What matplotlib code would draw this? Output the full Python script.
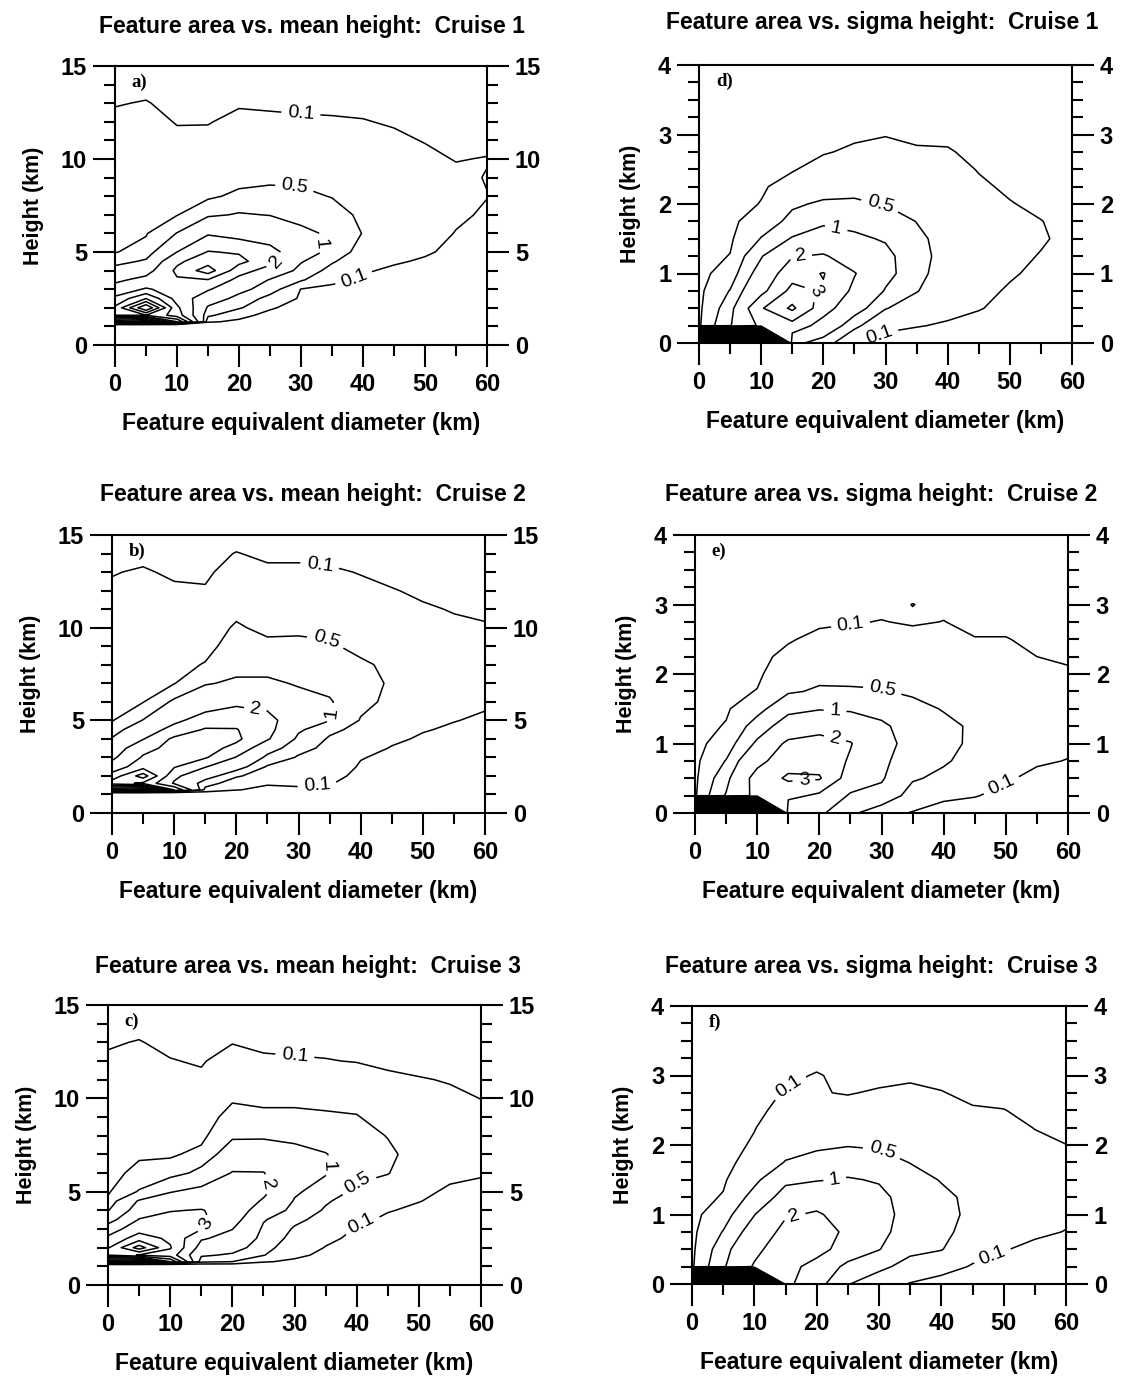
import numpy as np
import matplotlib
matplotlib.use("Agg")
import matplotlib.pyplot as plt
from matplotlib.ticker import MultipleLocator

# ---------------------------------------------------------------------------
# Frequency (%) of features by equivalent diameter (columns) and height (rows)
# ---------------------------------------------------------------------------
diameters = [0, 5, 10, 15, 20, 25, 30, 35, 40, 45, 50, 55, 60]

mean_heights = [1.1, 1.25, 1.6, 2.0, 2.5, 3.0, 3.5, 4.0, 4.5, 5,
                6, 7, 8, 9, 10, 11, 12, 13, 14, 15]

sigma_heights = [0, 0.25, 0.5, 0.75, 1.0, 1.25, 1.5, 1.75, 2.0,
                 2.25, 2.5, 2.75, 3.0, 3.25, 3.5, 3.75, 4.0]

freq_mean_cruise1 = [
    [0, 0, 0, 0, 0, 0, 0, 0, 0, 0, 0, 0, 0],
    [10, 11, 6, 0.12, 0.07, 0.02, 0.01, 0, 0, 0, 0, 0, 0],
    [5, 5, 3.5, 0.6, 0.15, 0.05, 0.02, 0.01, 0, 0, 0, 0, 0],
    [4.2, 8, 3.2, 0.9, 0.55, 0.12, 0.03, 0.02, 0.01, 0, 0, 0, 0],
    [3.2, 5, 2.6, 1.4, 0.8, 0.35, 0.06, 0.03, 0.02, 0.01, 0, 0, 0],
    [2.4, 3.1, 2.6, 2.1, 1.2, 0.7, 0.09, 0.05, 0.04, 0.02, 0.01, 0, 0],
    [1.8, 2.3, 2.9, 2.95, 1.7, 0.95, 0.55, 0.15, 0.07, 0.04, 0.02, 0.01, 0],
    [1.3, 1.6, 3.2, 4.5, 2.4, 1.6, 0.8, 0.35, 0.12, 0.07, 0.05, 0.02, 0.01],
    [0.75, 1.1, 2.8, 3.6, 3.3, 2.3, 1.05, 0.55, 0.2, 0.12, 0.08, 0.04, 0.02],
    [0.48, 0.65, 2.0, 3.05, 2.9, 2.3, 1.4, 0.8, 0.3, 0.18, 0.12, 0.06, 0.03],
    [0.4, 0.47, 1.02, 1.9, 1.6, 1.5, 1.15, 0.9, 0.48, 0.3, 0.2, 0.09, 0.05],
    [0.35, 0.43, 0.48, 0.9, 1.05, 0.98, 0.8, 0.7, 0.4, 0.3, 0.22, 0.14, 0.07],
    [0.3, 0.38, 0.36, 0.42, 0.6, 0.65, 0.6, 0.48, 0.35, 0.28, 0.22, 0.16, 0.105],
    [0.25, 0.33, 0.28, 0.3, 0.35, 0.4, 0.4, 0.35, 0.3, 0.25, 0.2, 0.15, 0.09],
    [0.2, 0.28, 0.2, 0.22, 0.27, 0.3, 0.3, 0.28, 0.25, 0.2, 0.15, 0.09, 0.11],
    [0.17, 0.22, 0.14, 0.15, 0.2, 0.22, 0.22, 0.2, 0.18, 0.14, 0.09, 0.05, 0.04],
    [0.14, 0.16, 0.09, 0.09, 0.15, 0.14, 0.13, 0.12, 0.11, 0.08, 0.05, 0.03, 0.02],
    [0.09, 0.11, 0.05, 0.05, 0.08, 0.07, 0.06, 0.06, 0.05, 0.03, 0.02, 0.01, 0.01],
    [0.03, 0.05, 0.02, 0.02, 0.02, 0.02, 0.02, 0.02, 0.01, 0.01, 0, 0, 0],
    [0, 0, 0, 0, 0, 0, 0, 0, 0, 0, 0, 0, 0],
]

freq_mean_cruise2 = [
    [0, 0, 0, 0, 0, 0, 0, 0, 0, 0, 0, 0, 0],
    [9, 10, 4, 0.35, 0.11, 0.05, 0.08, 0.06, 0.02, 0.01, 0, 0, 0],
    [4.5, 3.8, 1.9, 0.7, 0.25, 0.12, 0.12, 0.11, 0.04, 0.02, 0.01, 0, 0],
    [3.4, 5.5, 2.2, 1.3, 0.55, 0.3, 0.18, 0.15, 0.06, 0.03, 0.02, 0.01, 0],
    [2.4, 3.6, 3.1, 2.05, 1.3, 0.45, 0.3, 0.22, 0.08, 0.04, 0.03, 0.02, 0.01],
    [1.8, 3.1, 3.2, 3.1, 1.95, 0.85, 0.45, 0.3, 0.11, 0.06, 0.04, 0.03, 0.02],
    [1.4, 2.7, 3.3, 3.4, 2.7, 1.3, 0.65, 0.38, 0.17, 0.09, 0.06, 0.04, 0.03],
    [1.05, 1.95, 3.2, 3.4, 3.2, 2.1, 0.85, 0.45, 0.28, 0.13, 0.08, 0.06, 0.04],
    [0.7, 1.5, 2.3, 3.1, 3.05, 2.3, 1.1, 0.6, 0.38, 0.18, 0.11, 0.08, 0.06],
    [0.47, 1.02, 1.8, 2.4, 2.6, 2.3, 1.4, 1.02, 0.47, 0.25, 0.15, 0.105, 0.08],
    [0.4, 0.48, 1.1, 1.5, 1.8, 1.7, 1.2, 1.05, 0.62, 0.4, 0.25, 0.16, 0.12],
    [0.35, 0.42, 0.48, 0.95, 1.1, 1.1, 0.95, 0.85, 0.65, 0.45, 0.3, 0.2, 0.15],
    [0.3, 0.37, 0.4, 0.52, 0.8, 0.8, 0.8, 0.7, 0.56, 0.42, 0.28, 0.2, 0.16],
    [0.25, 0.32, 0.32, 0.4, 0.65, 0.6, 0.6, 0.55, 0.4, 0.32, 0.24, 0.18, 0.14],
    [0.2, 0.27, 0.25, 0.3, 0.55, 0.4, 0.42, 0.4, 0.3, 0.24, 0.18, 0.13, 0.11],
    [0.16, 0.22, 0.19, 0.22, 0.4, 0.3, 0.32, 0.3, 0.22, 0.17, 0.12, 0.09, 0.08],
    [0.13, 0.17, 0.13, 0.12, 0.3, 0.22, 0.24, 0.22, 0.15, 0.11, 0.07, 0.05, 0.04],
    [0.09, 0.12, 0.07, 0.06, 0.2, 0.15, 0.15, 0.13, 0.09, 0.05, 0.03, 0.02, 0.02],
    [0.03, 0.05, 0.02, 0.02, 0.11, 0.05, 0.05, 0.04, 0.03, 0.01, 0.01, 0, 0],
    [0, 0, 0, 0, 0, 0, 0, 0, 0, 0, 0, 0, 0],
]

freq_mean_cruise3 = [
    [0, 0, 0, 0, 0, 0, 0, 0, 0, 0, 0, 0, 0],
    [10, 11, 6, 0.6, 0.5, 0.12, 0.06, 0.02, 0, 0, 0, 0, 0],
    [5, 3.9, 3.5, 1.1, 0.9, 0.52, 0.15, 0.05, 0.01, 0, 0, 0, 0],
    [3.9, 6.5, 4.1, 1.6, 1.3, 0.65, 0.25, 0.09, 0.03, 0.01, 0, 0, 0],
    [3.2, 4.5, 3.8, 2.1, 1.7, 0.8, 0.35, 0.15, 0.05, 0.02, 0.01, 0, 0],
    [2.5, 3.6, 3.5, 3.05, 2.02, 0.9, 0.45, 0.25, 0.08, 0.04, 0.02, 0.01, 0],
    [1.6, 3.05, 3.3, 3.2, 2.4, 1.05, 0.6, 0.35, 0.14, 0.07, 0.04, 0.02, 0.01],
    [0.95, 2.5, 2.95, 3.05, 2.6, 1.5, 0.8, 0.45, 0.22, 0.11, 0.07, 0.04, 0.03],
    [0.58, 2.1, 2.5, 2.6, 2.7, 1.9, 0.95, 0.55, 0.3, 0.17, 0.105, 0.06, 0.05],
    [0.45, 1.05, 1.95, 2.3, 2.6, 2.2, 1.1, 0.7, 0.42, 0.25, 0.13, 0.08, 0.07],
    [0.38, 0.6, 0.7, 1.2, 2.05, 2.03, 1.4, 1.05, 0.6, 0.52, 0.2, 0.13, 0.11],
    [0.33, 0.45, 0.45, 0.6, 1.4, 1.45, 1.2, 1.02, 0.75, 0.6, 0.3, 0.18, 0.14],
    [0.28, 0.38, 0.35, 0.4, 0.9, 0.9, 0.85, 0.8, 0.7, 0.48, 0.28, 0.18, 0.15],
    [0.24, 0.32, 0.28, 0.3, 0.65, 0.6, 0.6, 0.55, 0.52, 0.35, 0.22, 0.16, 0.13],
    [0.2, 0.27, 0.22, 0.24, 0.45, 0.4, 0.4, 0.4, 0.38, 0.25, 0.17, 0.13, 0.098],
    [0.17, 0.22, 0.17, 0.14, 0.3, 0.28, 0.26, 0.25, 0.22, 0.14, 0.11, 0.09, 0.06],
    [0.13, 0.17, 0.11, 0.08, 0.2, 0.13, 0.12, 0.11, 0.09, 0.06, 0.05, 0.04, 0.03],
    [0.08, 0.11, 0.05, 0.04, 0.09, 0.06, 0.05, 0.04, 0.03, 0.02, 0.02, 0.01, 0.01],
    [0.03, 0.04, 0.02, 0.01, 0.03, 0.02, 0.01, 0.01, 0, 0, 0, 0, 0],
    [0, 0, 0, 0, 0, 0, 0, 0, 0, 0, 0, 0, 0],
]

freq_sigma_cruise1 = [
    [50, 45, 30, 1.2, 0.7, 0.12, 0.02, 0, 0, 0, 0, 0, 0],
    [0.05, 0.95, 2.2, 2.6, 1.6, 0.6, 0.15, 0.11, 0.08, 0.04, 0.02, 0.01, 0],
    [0.03, 0.75, 2.9, 4.2, 2.4, 1.3, 0.52, 0.3, 0.15, 0.11, 0.05, 0.02, 0.01],
    [0.02, 0.52, 1.7, 3.3, 2.9, 1.8, 0.95, 0.52, 0.25, 0.15, 0.08, 0.04, 0.02],
    [0.01, 0.25, 1.3, 2.6, 3.05, 2.05, 1.2, 0.62, 0.3, 0.2, 0.12, 0.06, 0.03],
    [0, 0.11, 0.95, 1.95, 2.1, 1.5, 1.15, 0.66, 0.33, 0.22, 0.15, 0.09, 0.04],
    [0, 0.05, 0.52, 1.05, 1.3, 1.1, 0.95, 0.6, 0.33, 0.22, 0.16, 0.12, 0.05],
    [0, 0.02, 0.3, 0.6, 0.9, 0.85, 0.75, 0.49, 0.3, 0.2, 0.15, 0.105, 0.04],
    [0, 0.01, 0.11, 0.45, 0.55, 0.55, 0.48, 0.4, 0.27, 0.17, 0.11, 0.06, 0.03],
    [0, 0, 0.07, 0.2, 0.35, 0.4, 0.4, 0.32, 0.22, 0.13, 0.07, 0.03, 0.01],
    [0, 0, 0.03, 0.08, 0.2, 0.28, 0.3, 0.25, 0.17, 0.09, 0.04, 0.01, 0],
    [0, 0, 0.01, 0.03, 0.08, 0.14, 0.17, 0.13, 0.12, 0.04, 0.01, 0, 0],
    [0, 0, 0, 0.01, 0.03, 0.06, 0.09, 0.05, 0.05, 0.01, 0, 0, 0],
    [0, 0, 0, 0, 0, 0.02, 0.03, 0.01, 0.01, 0, 0, 0, 0],
    [0, 0, 0, 0, 0, 0, 0, 0, 0, 0, 0, 0, 0],
    [0, 0, 0, 0, 0, 0, 0, 0, 0, 0, 0, 0, 0],
    [0, 0, 0, 0, 0, 0, 0, 0, 0, 0, 0, 0, 0],
]

freq_sigma_cruise2 = [
    [50, 45, 30, 1.05, 1.1, 0.6, 0.2, 0.08, 0, 0, 0, 0, 0],
    [0.05, 1.05, 2.3, 2.3, 1.8, 0.9, 0.85, 0.3, 0.15, 0.11, 0.05, 0.02, 0.01],
    [0.03, 0.8, 2.4, 3.15, 3.1, 1.5, 1.05, 0.55, 0.4, 0.25, 0.12, 0.06, 0.04],
    [0.02, 0.52, 1.7, 2.6, 2.6, 1.9, 1.1, 0.75, 0.55, 0.35, 0.2, 0.12, 0.095],
    [0.01, 0.25, 1.1, 2.2, 2.3, 2.05, 1.2, 0.8, 0.62, 0.42, 0.25, 0.16, 0.13],
    [0, 0.12, 0.7, 1.3, 1.7, 1.5, 1.1, 0.75, 0.58, 0.45, 0.28, 0.18, 0.14],
    [0, 0.06, 0.35, 0.85, 0.95, 0.9, 0.8, 0.6, 0.48, 0.4, 0.27, 0.18, 0.13],
    [0, 0.03, 0.11, 0.45, 0.55, 0.52, 0.52, 0.45, 0.38, 0.32, 0.24, 0.17, 0.14],
    [0, 0.01, 0.05, 0.3, 0.4, 0.45, 0.4, 0.38, 0.3, 0.25, 0.2, 0.15, 0.12],
    [0, 0, 0.02, 0.18, 0.3, 0.35, 0.33, 0.3, 0.25, 0.19, 0.16, 0.1, 0.08],
    [0, 0, 0, 0.07, 0.18, 0.22, 0.25, 0.2, 0.17, 0.11, 0.11, 0.05, 0.04],
    [0, 0, 0, 0.02, 0.05, 0.08, 0.11, 0.07, 0.105, 0.04, 0.04, 0.01, 0.01],
    [0, 0, 0, 0, 0.01, 0.02, 0.03, 0.104, 0.05, 0.01, 0.01, 0, 0],
    [0, 0, 0, 0, 0, 0, 0, 0.02, 0.01, 0, 0, 0, 0],
    [0, 0, 0, 0, 0, 0, 0, 0, 0, 0, 0, 0, 0],
    [0, 0, 0, 0, 0, 0, 0, 0, 0, 0, 0, 0, 0],
    [0, 0, 0, 0, 0, 0, 0, 0, 0, 0, 0, 0, 0],
]

freq_sigma_cruise3 = [
    [50, 45, 30, 2.3, 1.2, 0.52, 0.25, 0.08, 0, 0, 0, 0, 0],
    [0.05, 0.9, 2.1, 2.4, 1.6, 0.8, 0.6, 0.35, 0.2, 0.08, 0.03, 0.02, 0.01],
    [0.03, 0.75, 1.75, 2.6, 2.4, 1.5, 1.02, 0.6, 0.52, 0.2, 0.11, 0.06, 0.04],
    [0.02, 0.52, 1.3, 2.3, 2.5, 1.8, 1.15, 0.75, 0.6, 0.35, 0.2, 0.13, 0.095],
    [0.01, 0.3, 0.98, 1.9, 2.1, 1.65, 1.2, 0.8, 0.62, 0.42, 0.26, 0.17, 0.13],
    [0, 0.12, 0.65, 1.2, 1.6, 1.35, 1.15, 0.75, 0.58, 0.42, 0.28, 0.19, 0.15],
    [0, 0.06, 0.4, 0.9, 0.95, 1.05, 0.95, 0.65, 0.48, 0.38, 0.27, 0.19, 0.15],
    [0, 0.03, 0.2, 0.52, 0.6, 0.7, 0.65, 0.49, 0.4, 0.32, 0.24, 0.17, 0.14],
    [0, 0.01, 0.13, 0.35, 0.45, 0.48, 0.45, 0.4, 0.33, 0.26, 0.2, 0.14, 0.102],
    [0, 0, 0.09, 0.25, 0.3, 0.3, 0.33, 0.3, 0.27, 0.2, 0.16, 0.095, 0.06],
    [0, 0, 0.04, 0.18, 0.2, 0.17, 0.22, 0.22, 0.2, 0.12, 0.105, 0.05, 0.02],
    [0, 0, 0, 0.12, 0.11, 0.09, 0.12, 0.14, 0.11, 0.05, 0.04, 0.01, 0],
    [0, 0, 0, 0.04, 0.12, 0.03, 0.05, 0.07, 0.04, 0.01, 0.01, 0, 0],
    [0, 0, 0, 0, 0.02, 0, 0, 0.02, 0, 0, 0, 0, 0],
    [0, 0, 0, 0, 0, 0, 0, 0, 0, 0, 0, 0, 0],
    [0, 0, 0, 0, 0, 0, 0, 0, 0, 0, 0, 0, 0],
    [0, 0, 0, 0, 0, 0, 0, 0, 0, 0, 0, 0, 0],
]

contour_levels = [0.1, 0.5] + list(range(1, 51))
labelled_levels = [0.1, 0.5, 1, 2, 3]

# ---------------------------------------------------------------------------
# Layout
# ---------------------------------------------------------------------------
plt.rcParams["font.family"] = ["Liberation Sans", "DejaVu Sans"]
plt.rcParams["font.weight"] = "bold"
plt.rcParams["axes.labelweight"] = "bold"

W, H = 1121, 1379
fig = plt.figure(figsize=(W / 100, H / 100), dpi=100)


def px_box(left, top, right, bottom):
    return [left / W, 1 - bottom / H, (right - left) / W, (bottom - top) / H]


panels = [
    dict(z=freq_mean_cruise1, kind="mean", letter="a)", box=px_box(115, 66, 487, 345),
         title="Feature area vs. mean height:  Cruise 1", tpos=(312, 27),
         labels=[(30, 12.5), (29, 8.6), (34.5, 5.5), (26, 4.5), (38.5, 3.6)]),
    dict(z=freq_sigma_cruise1, kind="sigma", letter="d)", box=px_box(699, 65, 1072, 343),
         title="Feature area vs. sigma height:  Cruise 1", tpos=(882, 22),
         labels=[(29, 1.9), (22, 1.62), (16.5, 1.15), (19, 0.8), (29, 0.12)]),
    dict(z=freq_mean_cruise2, kind="mean", letter="b)", box=px_box(112, 535, 485, 813),
         title="Feature area vs. mean height:  Cruise 2", tpos=(313, 495),
         labels=[(33.5, 13.6), (34.5, 9.4), (34.5, 5.4), (23, 5.5), (33, 1.5)]),
    dict(z=freq_sigma_cruise2, kind="sigma", letter="e)", box=px_box(695, 535, 1068, 813),
         title="Feature area vs. sigma height:  Cruise 2", tpos=(881, 494),
         labels=[(25, 2.72), (30, 1.74), (22.5, 1.43), (22.2, 0.95), (17.5, 0.5), (49, 0.45)]),
    dict(z=freq_mean_cruise3, kind="mean", letter="c)", box=px_box(108, 1005, 481, 1285),
         title="Feature area vs. mean height:  Cruise 3", tpos=(308, 967),
         labels=[(30, 12.1), (40, 5.6), (37, 6.4), (24.5, 5.3), (16, 3.2), (40.5, 3.5)]),
    dict(z=freq_sigma_cruise3, kind="sigma", letter="f)", box=px_box(692, 1006, 1066, 1284),
         title="Feature area vs. sigma height:  Cruise 3", tpos=(881, 966),
         labels=[(15.5, 2.85), (30, 1.82), (23, 1.45), (16.5, 0.95), (48, 0.45)]),
]

for p in panels:
    ax = fig.add_axes(p["box"])
    if p["kind"] == "mean":
        heights = mean_heights
        ymax, ymajor, yminor = 15, 5, 1
    else:
        heights = sigma_heights
        ymax, ymajor, yminor = 4, 1, 0.25

    X, Y = np.meshgrid(diameters, heights)
    Z = np.array(p["z"], dtype=float)
    cs = ax.contour(X, Y, Z, levels=contour_levels, colors="black",
                    linewidths=1.1)
    texts = ax.clabel(cs, levels=labelled_levels, inline=True, inline_spacing=6,
                      fontsize=14, fmt=lambda v: f"{v:g}", manual=p["labels"])
    for t in texts:
        t.set_fontweight("normal")

    ax.set_xlim(0, 60)
    ax.set_ylim(0, ymax)
    ax.set_xticks(range(0, 61, 10))
    ax.xaxis.set_minor_locator(MultipleLocator(5))
    ax.yaxis.set_major_locator(MultipleLocator(ymajor))
    ax.yaxis.set_minor_locator(MultipleLocator(yminor))
    ax.tick_params(which="major", direction="out", length=16, width=1.5,
                   labelsize=17, pad=4)
    ax.tick_params(which="minor", direction="out", length=8, width=1.5)
    ax.tick_params(axis="y", which="both", left=True, right=True,
                   labelleft=True, labelright=True)
    ax.tick_params(axis="x", which="both", top=False)
    for s in ax.spines.values():
        s.set_linewidth(1.5)

    ax.set_xlabel("Feature equivalent diameter (km)", fontsize=16.5,
                  fontweight="bold", labelpad=12)
    ax.set_ylabel("Height (km)", fontsize=15.5, fontweight="bold", labelpad=12)

    ax.text(0.045, 0.94, p["letter"], transform=ax.transAxes, ha="left",
            va="center", fontsize=13.5, fontweight="bold",
            family=["Liberation Serif", "DejaVu Serif"])

    tx, ty = p["tpos"]
    fig.text(tx / W, 1 - ty / H, p["title"], ha="center", va="center",
             fontsize=16.5, fontweight="bold")

fig.savefig("out.png", dpi=100)
